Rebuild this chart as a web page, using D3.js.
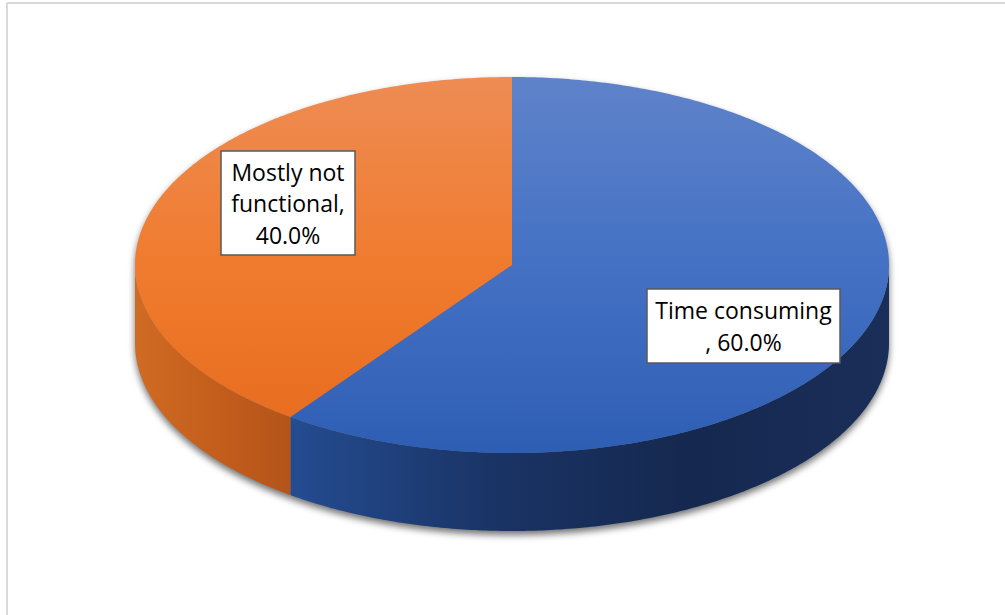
<!DOCTYPE html>
<html>
<head>
<meta charset="utf-8">
<script src="https://cdn.jsdelivr.net/npm/d3@7/dist/d3.min.js"></script>
<style>
  html, body { margin: 0; padding: 0; background: #fff; }
  svg { display: block; }
</style>
</head>
<body>
<svg id="chart" width="1005" height="615"></svg>
<script>
// Reasons reported, share of respondents (%)
const categories = ["Time consuming", "Mostly not functional"];
const values = [60, 40];
// Label text broken into lines; "{p}" is replaced by the formatted share
const labelLines = [
  ["Time consuming", ", {p}"],
  ["Mostly not", "functional,", "{p}"]
];

// Layout
const W = 1005, H = 615;
const cx = 512, cy = 265, rx = 377, ry = 188, depth = 78;
const labelBoxes = [
  { x: 647, y: 289, w: 193, h: 74 },
  { x: 221, y: 151, w: 134, h: 104 }
];
const lineH = 31.5;

const topGrad = [
  ["#5f83ca", "#4471c4", "#2e5eb4"],
  ["#ee8c54", "#f07b2e", "#e66b1e"]
];
const sideGrad = [
  ["#244c91", "#1a3466", "#15284f", "#1a2e59"],
  ["#d06b24", "#c45e1c", "#b4541a"]
];

const svg = d3.select("#chart");
const defs = svg.append("defs");

// chart frame
svg.append("line").attr("x1", 7).attr("y1", 3).attr("x2", W).attr("y2", 3)
  .attr("stroke", "#d9d9d9").attr("stroke-width", 2);
svg.append("line").attr("x1", 7).attr("y1", 3).attr("x2", 7).attr("y2", H)
  .attr("stroke", "#d9d9d9").attr("stroke-width", 2);

const pie = d3.pie().sort(null).value(d => d)(values);
const total = d3.sum(values);
const fmt = d3.format(".1%");

// angle → point on the top ellipse (0 = 12 o'clock, clockwise)
const px = a => cx + rx * Math.sin(a);
const py = a => cy - ry * Math.cos(a);

function topPath(a0, a1) {
  const p = d3.path();
  p.moveTo(cx, cy);
  const n = Math.max(2, Math.ceil((a1 - a0) / 0.01));
  for (let i = 0; i <= n; i++) {
    const a = a0 + (a1 - a0) * i / n;
    p.lineTo(px(a), py(a));
  }
  p.closePath();
  return p.toString();
}

// front wall of a slice: only the part facing the viewer (90°..270°)
function sidePath(a0, a1) {
  const s = Math.max(a0, Math.PI / 2), e = Math.min(a1, 3 * Math.PI / 2);
  if (e <= s) return null;
  const p = d3.path();
  const n = Math.max(2, Math.ceil((e - s) / 0.01));
  for (let i = 0; i <= n; i++) {
    const a = s + (e - s) * i / n;
    if (i === 0) p.moveTo(px(a), py(a)); else p.lineTo(px(a), py(a));
  }
  for (let i = n; i >= 0; i--) {
    const a = s + (e - s) * i / n;
    p.lineTo(px(a), py(a) + depth);
  }
  p.closePath();
  return { d: p.toString(), x0: Math.min(px(s), px(e)), x1: Math.max(px(s), px(e)) };
}

// soft drop shadow under the whole disc
const blur = defs.append("filter").attr("id", "shadowBlur")
  .attr("x", "-10%").attr("y", "-10%").attr("width", "120%").attr("height", "120%");
blur.append("feGaussianBlur").attr("stdDeviation", 3.5);

function discOutline() {
  const p = d3.path();
  const n = 400;
  for (let i = 0; i <= n; i++) {
    const a = Math.PI / 2 + Math.PI * i / n;
    if (i === 0) p.moveTo(px(a), py(a) + depth); else p.lineTo(px(a), py(a) + depth);
  }
  for (let i = 0; i <= n; i++) {
    const a = 3 * Math.PI / 2 + Math.PI * i / n;
    p.lineTo(px(a), py(a));
  }
  p.closePath();
  return p.toString();
}

svg.append("path")
  .attr("d", discOutline())
  .attr("transform", "translate(0,4)")
  .attr("fill", "#000").attr("opacity", 0.55)
  .attr("filter", "url(#shadowBlur)");

// top-face gradients
pie.forEach((d, i) => {
  const tg = defs.append("linearGradient").attr("id", "top" + i)
    .attr("gradientUnits", "userSpaceOnUse")
    .attr("x1", 0).attr("y1", cy - ry).attr("x2", 0).attr("y2", cy + ry);
  topGrad[i].forEach((c, k, arr) =>
    tg.append("stop").attr("offset", k / (arr.length - 1)).attr("stop-color", c));
});

const sideLayer = svg.append("g");
const topLayer = svg.append("g");

pie.forEach((d, i) => {
  const sp = sidePath(d.startAngle, d.endAngle);
  if (sp) {
    const sg = defs.append("linearGradient").attr("id", "side" + i)
      .attr("gradientUnits", "userSpaceOnUse")
      .attr("x1", sp.x0).attr("y1", 0).attr("x2", sp.x1).attr("y2", 0);
    sideGrad[i].forEach((c, k, arr) =>
      sg.append("stop").attr("offset", k / (arr.length - 1)).attr("stop-color", c));
    sideLayer.append("path").attr("d", sp.d).attr("fill", `url(#side${i})`);
  }
  topLayer.append("path")
    .attr("d", topPath(d.startAngle, d.endAngle))
    .attr("fill", `url(#top${i})`);
});

// data labels
const labels = svg.append("g")
  .attr("font-family", "'Open Sans', Carlito, Calibri, sans-serif")
  .attr("font-size", 23).attr("fill", "#000");

pie.forEach((d, i) => {
  const b = labelBoxes[i];
  const pct = fmt(d.value / total);
  const lines = labelLines[i].map(t => t.replace("{p}", pct));
  labels.append("rect")
    .attr("x", b.x).attr("y", b.y).attr("width", b.w).attr("height", b.h)
    .attr("fill", "#fff").attr("stroke", "#595959").attr("stroke-width", 1.5);
  const midY = b.y + b.h / 2;
  const firstBase = midY - (lines.length - 1) * lineH / 2 + 9;
  lines.forEach((t, k) => {
    labels.append("text")
      .attr("x", b.x + b.w / 2)
      .attr("y", firstBase + k * lineH)
      .attr("text-anchor", "middle")
      .text(t);
  });
});
</script>
</body>
</html>
